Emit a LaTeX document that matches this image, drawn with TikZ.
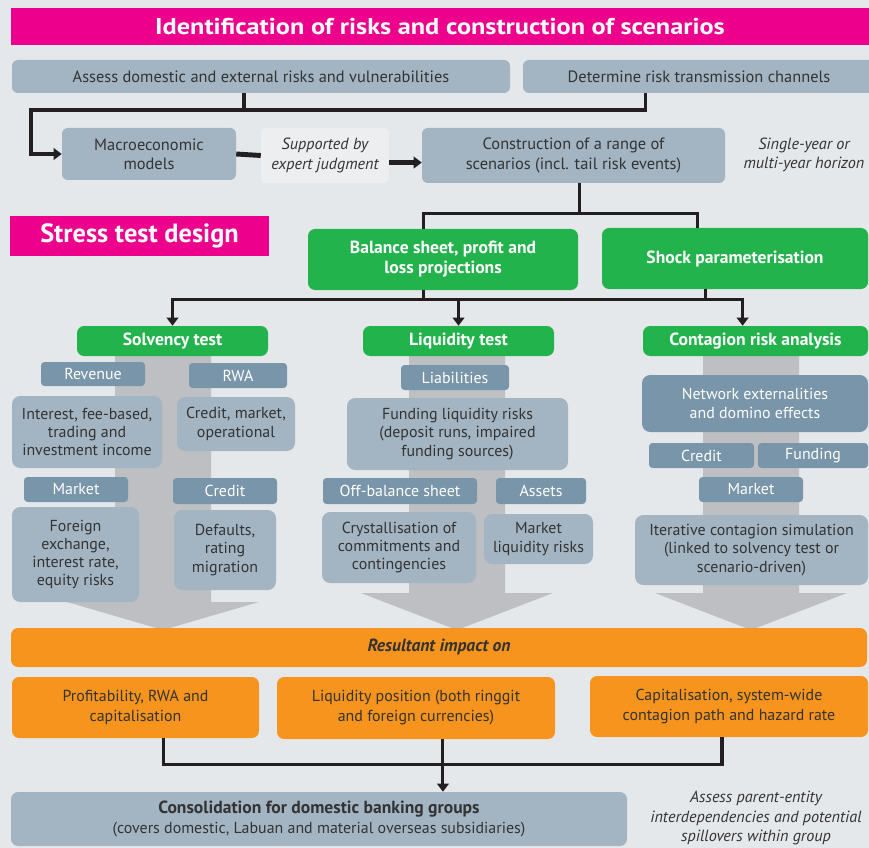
\documentclass[tikz,border=0pt]{standalone}
\usepackage{fontspec}
\setmainfont{PT Sans}
\newfontfamily\titlefont{PT Sans}[FakeStretch=1.15]
\usetikzlibrary{arrows.meta}

\definecolor{bgcol}{HTML}{E5E8EB}
\definecolor{magentabar}{HTML}{EC008C}
\definecolor{greenbox}{HTML}{23B34C}
\definecolor{lightbox}{HTML}{A3B5C3}
\definecolor{darkbox}{HTML}{7995A9}
\definecolor{orangebox}{HTML}{F7941D}
\definecolor{band}{HTML}{BDBFC2}
\definecolor{textcol}{HTML}{333333}
\definecolor{linecol}{HTML}{231F20}
\definecolor{notebox}{HTML}{ECEEF0}

\tikzset{
  wh/.style 2 args={minimum width=#1*0.03cm, minimum height=#2*0.03cm},
  boxbase/.style={inner sep=0pt, align=center, text=textcol},
  titlebar/.style={boxbase, fill=magentabar, text=white, font=\titlefont\bfseries\fontsize{19.5}{22}\selectfont},
  gbox/.style={boxbase, fill=greenbox, rounded corners=6pt, text=white, font=\bfseries\fontsize{15}{17}\selectfont},
  lbox/.style={boxbase, fill=lightbox, rounded corners=7pt, font=\fontsize{13.6}{15.6}\selectfont},
  topbox/.style={lbox, rounded corners=5pt, font=\fontsize{14}{16.5}\selectfont},
  tagbox/.style={boxbase, fill=darkbox, rounded corners=3pt, text=white, font=\fontsize{13.6}{16}\selectfont},
  obox/.style={boxbase, fill=orangebox, rounded corners=6pt, font=\fontsize{13.6}{17}\selectfont},
  notetext/.style={boxbase, font=\itshape\fontsize{13.8}{16.5}\selectfont},
  conn/.style={draw=linecol, line width=2.6pt},
  arr/.style={conn, -{Triangle[length=7pt,width=10pt]}},
}

\begin{document}
\begin{tikzpicture}[x=0.03cm, y=-0.03cm]
  \fill[bgcol] (0,0) rectangle (869,848);
  \useasboundingbox (0,0) rectangle (869,848);

  % identification of risks
  \node[titlebar, wh={858}{37}] (ttl1) at (440,26.5) {Identification of risks and construction of scenarios};
  \node[topbox, wh={498}{33}] (assess) at (261,76.5) {Assess domestic and external risks and vulnerabilities};
  \node[topbox, wh={352}{33}] (det) at (699,76.5) {Determine risk transmission channels};
  \node[topbox, wh={174}{52}] (macro) at (149,154) {Macroeconomic\\models};
  \node[notetext, fill=notebox, rounded corners=4pt, wh={128}{55}] (supp) at (325,155.5) {Supported by\\expert judgment};
  \node[topbox, wh={303}{55}] (scen) at (573.5,155.5) {Construction of a range of\\scenarios (incl. tail risk events)};
  \node[notetext] (horiz) at (804,155) {Single-year or\\multi-year horizon};

  \coordinate (c1) at (31,110);
  \coordinate (as) at ([xshift=-14.5pt]assess.south);
  \draw[conn] (as) -- (as |- c1);
  \draw[arr] ([xshift=-46pt]det.south) |- (c1) |- (macro.west);
  \draw[conn, line width=4.2pt] (macro.east) -- (supp.west);
  \draw[arr, line width=4.2pt] ([yshift=-6pt]supp.east) -- ([yshift=-6pt]scen.west);

  % stress test design
  \node[titlebar, font=\bfseries\fontsize{22.5}{24}\selectfont, wh={259}{40}] (ttl2) at (139.5,236) {Stress test design};
  \node[gbox, wh={270}{61}] (bal) at (443,259.5) {Balance sheet, profit and\\loss projections};
  \node[gbox, wh={266}{61}] (shock) at (735,258.5) {Shock parameterisation};

  \draw[conn] ([xshift=5.5pt]scen.south) -- ++(0,30) coordinate (s1);
  \draw[conn] ([xshift=-17pt]bal.north) |- (s1) -| ([xshift=-32pt]shock.north);

  % wide grey arrows behind the columns
  \foreach \cx/\yb in {163/602, 457/593, 751/593}
    \fill[band] (\cx-48,356) -- (\cx+48,356) -- (\cx+48,\yb) -- (\cx+96,\yb)
      -- (\cx,630) -- (\cx-96,\yb) -- (\cx-48,\yb) -- cycle;

  \node[gbox, wh={191}{30}] (sol) at (172.5,341) {Solvency test};
  \node[gbox, wh={191}{30}] (liq) at (458.5,341) {Liquidity test};
  \node[gbox, wh={225}{30}] (cont) at (755.5,341) {Contagion risk analysis};

  \draw[conn] ([xshift=-17pt]bal.south) -- ++(0,9) coordinate (b2);
  \draw[conn] ([xshift=-25pt]shock.south) -- ++(0,10);
  \draw[arr] (b2) -| (sol.north);
  \draw[arr] (b2) -| (liq.north);
  \draw[arr] (b2) -| ([xshift=-11pt]cont.north);

  % solvency test
  \node[tagbox, wh={104}{24}] (rev) at (93,374) {Revenue};
  \node[tagbox, wh={98}{25}] (rwa) at (238,375.5) {RWA};
  \node[lbox, wh={150}{72}] (income) at (87,432) {Interest, fee-based,\\trading and\\investment income};
  \node[lbox, wh={118}{54}] (cmo) at (236,424) {Credit, market,\\operational};
  \node[tagbox, wh={104}{25}] (mkt1) at (76,489.5) {Market};
  \node[tagbox, wh={104}{26}] (cred1) at (225,491) {Credit};
  \node[lbox, wh={127}{95}] (fx) at (75.5,554.5) {Foreign\\exchange,\\interest rate,\\equity risks};
  \node[lbox, wh={102}{80}] (dflt) at (225,550) {Defaults,\\rating\\migration};

  % liquidity test
  \node[tagbox, wh={108}{25}] (liab) at (455,377.5) {Liabilities};
  \node[lbox, wh={221}{72}] (fund) at (457.5,434) {Funding liquidity risks\\(deposit runs, impaired\\funding sources)};
  \node[tagbox, wh={154}{26}] (obs) at (400,491) {Off-balance sheet};
  \node[tagbox, wh={90}{26}] (assets) at (541,491) {Assets};
  \node[lbox, wh={154}{71}] (cryst) at (399,547.5) {Crystallisation of\\commitments and\\contingencies};
  \node[lbox, wh={109}{50}] (mlr) at (538.5,539) {Market\\liquidity risks};

  % contagion risk analysis
  \node[tagbox, rounded corners=7pt, wh={226}{57}] (net) at (755,403.5) {Network externalities\\and domino effects};
  \node[tagbox, wh={105}{25}] (cred2) at (701.5,455.5) {Credit};
  \node[tagbox, wh={110}{25}] (fund2) at (813,455.5) {Funding};
  \node[tagbox, wh={104}{25}] (mkt2) at (751,489.5) {Market};
  \node[lbox, wh={233}{70}] (iter) at (751.5,550) {Iterative contagion simulation\\(linked to solvency test or\\scenario-driven)};

  % resultant impact
  \node[obox, font=\bfseries\itshape\fontsize{15}{17}\selectfont, wh={856}{39}] (impact) at (439,647.5) {Resultant impact on};
  \node[obox, wh={247}{61}] (prof) at (135.5,707.5) {Profitability, RWA and\\capitalisation};
  \node[obox, wh={278}{62}] (liqpos) at (416,708) {Liquidity position (both ringgit\\and foreign currencies)};
  \node[obox, wh={278}{61}] (capit) at (729,706.5) {Capitalisation, system-wide\\contagion path and hazard rate};

  \node[lbox, rounded corners=6pt, font=\fontsize{13.6}{17}\selectfont, wh={616}{54}] (cons) at (319,819) {{\bfseries\fontsize{15}{17}\selectfont Consolidation for domestic banking groups}\\(covers domestic, Labuan and material overseas subsidiaries)};
  \node[notetext] (parent) at (756,818) {Assess parent-entity\\interdependencies and potential\\spillovers within group};

  \draw[conn] ([xshift=24pt]prof.south) -- ++(0,26) coordinate (b3) -| ([xshift=-6pt]capit.south);
  \coordinate (ls) at ([xshift=23pt]liqpos.south);
  \draw[arr] (ls) -- (ls |- cons.north);
\end{tikzpicture}
\end{document}
